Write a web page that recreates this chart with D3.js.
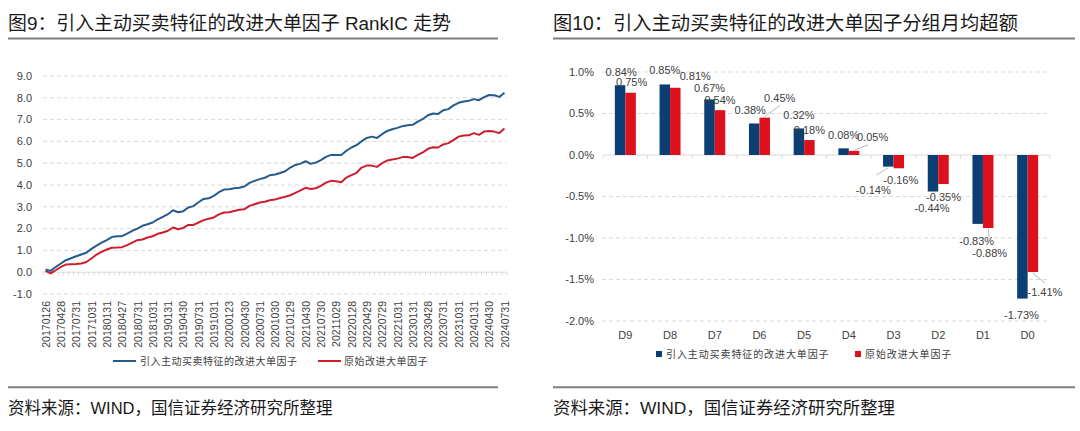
<!DOCTYPE html>
<html><head><meta charset="utf-8">
<script src="https://cdn.jsdelivr.net/npm/d3@7"></script>
<style>
body{margin:0;background:#fff;}
svg{display:block;}
text{font-family:"Liberation Sans",Arial,sans-serif;fill:#404040;}
.cjk{font-family:"Liberation Sans","Noto Sans CJK SC",sans-serif;}
.cjk2{font-family:"Noto Sans CJK SC",sans-serif;}
</style></head><body>
<svg id="c" width="1080" height="431"></svg>
<script>
// ---------------- data ----------------
const tickLabels = ["20170126","20170428","20170731","20171031","20180131","20180427","20180731","20181031",
"20190131","20190430","20190731","20191031","20200123","20200430","20200731","20201030","20210129","20210430",
"20210730","20211029","20220128","20220429","20220729","20221031","20230131","20230428","20230731","20231031",
"20240131","20240430","20240731"];
const improvedIC = [0.12,0.06,0.24,0.40,0.55,0.64,0.73,0.81,0.89,1.07,1.22,1.36,1.47,1.61,1.65,1.65,1.77,1.90,2.00,2.13,
2.20,2.28,2.42,2.54,2.66,2.84,2.75,2.80,2.97,3.03,3.21,3.36,3.39,3.50,3.67,3.79,3.81,3.85,3.87,3.93,
4.10,4.19,4.27,4.33,4.45,4.48,4.55,4.63,4.80,4.92,4.98,5.09,4.97,5.03,5.14,5.29,5.38,5.38,5.38,5.57,
5.72,5.83,6.01,6.16,6.22,6.16,6.33,6.48,6.56,6.62,6.70,6.74,6.76,6.91,7.03,7.20,7.28,7.26,7.43,7.48,
7.65,7.77,7.83,7.86,7.94,7.89,8.03,8.13,8.12,8.04,8.23];
const originalIC = [0.06,-0.05,0.09,0.24,0.35,0.37,0.38,0.40,0.47,0.63,0.81,0.93,1.04,1.12,1.13,1.15,1.24,1.36,1.47,1.50,
1.59,1.65,1.76,1.82,1.90,2.05,1.97,2.03,2.17,2.17,2.28,2.39,2.45,2.51,2.65,2.74,2.75,2.81,2.86,2.89,
3.04,3.12,3.20,3.23,3.30,3.33,3.40,3.46,3.53,3.64,3.75,3.87,3.82,3.85,3.96,4.11,4.19,4.17,4.13,4.34,
4.45,4.56,4.80,4.89,4.89,4.83,5.00,5.12,5.17,5.21,5.28,5.28,5.24,5.38,5.50,5.66,5.73,5.72,5.86,5.92,
6.06,6.22,6.27,6.28,6.38,6.30,6.45,6.48,6.45,6.38,6.59];
const yTicksLeft = [-1,0,1,2,3,4,5,6,7,8,9];
const groups = ["D9","D8","D7","D6","D5","D4","D3","D2","D1","D0"];
const groupImproved = [0.84,0.85,0.67,0.38,0.32,0.08,-0.14,-0.44,-0.83,-1.73];
const groupOriginal = [0.75,0.81,0.54,0.45,0.18,0.05,-0.16,-0.35,-0.88,-1.41];
const yTicksRight = [1.0,0.5,0.0,-0.5,-1.0,-1.5,-2.0];
const seriesNames = ["引入主动买卖特征的改进大单因子","原始改进大单因子"];
const titles = ["图9：引入主动买卖特征的改进大单因子 RankIC 走势","图10：引入主动买卖特征的改进大单因子分组月均超额"];
const sourceText = "资料来源：WIND，国信证券经济研究所整理";

// ---------------- style ----------------
const BLUE_LINE = "#255a8c", RED_LINE = "#cc1f2b";
const BLUE_BAR = "#0b3f74", RED_BAR = "#dc111d";
const GRID = "#d9d9d9";
const loc = d3.formatLocale({decimal:".",thousands:",",grouping:[3],currency:["",""],minus:"-"});
const f1 = loc.format(".1f"), f2 = loc.format(".2f");

const svg = d3.select("#c");

// frame titles / rules / sources: [x0, x1, titleSize, sourceSize]
[[8,498,18.9,16.5],[553,1075,19.3,17.4]].forEach((p,k)=>{
  svg.append("text").attr("class","cjk").attr("x",p[0]).attr("y",30)
    .attr("font-size",p[2]).style("fill","#1a1a1a").text(titles[k]);
  svg.append("line").attr("x1",p[0]).attr("x2",p[1]).attr("y1",38.5).attr("y2",38.5)
    .attr("stroke","#7f7f7f").attr("stroke-width",2);
  svg.append("line").attr("x1",p[0]).attr("x2",p[1]).attr("y1",387.3).attr("y2",387.3)
    .attr("stroke","#7f7f7f").attr("stroke-width",2);
  svg.append("text").attr("class","cjk").attr("x",p[0]).attr("y",414)
    .attr("font-size",p[3]).style("fill","#1a1a1a").text(sourceText);
});

// ---------------- left line chart ----------------
{
  const x = d3.scaleBand().domain(d3.range(improvedIC.length)).range([43,507]);
  const y = d3.scaleLinear().domain([-1,9]).range([294,76]);
  const cx = i => x(i) + x.bandwidth()/2;
  const g = svg.append("g");
  g.selectAll(".gl").data(yTicksLeft.filter(v=>v!==0)).join("line")
    .attr("x1",43).attr("x2",507).attr("y1",d=>y(d)).attr("y2",d=>y(d))
    .attr("stroke",GRID).attr("stroke-dasharray","4,3");
  g.selectAll(".yl").data(yTicksLeft).join("text")
    .attr("x",32).attr("y",d=>y(d)).attr("dy","0.35em").attr("text-anchor","end")
    .attr("font-size",11).text(f1);
  g.append("line").attr("x1",43).attr("x2",507).attr("y1",y(0)).attr("y2",y(0)).attr("stroke",GRID);
  g.selectAll(".mt").data(d3.range(improvedIC.length+1)).join("line")
    .attr("x1",i=>43+i*x.step()).attr("x2",i=>43+i*x.step())
    .attr("y1",y(0)).attr("y2",y(0)+3).attr("stroke",GRID);
  g.selectAll(".xl").data(tickLabels).join("text")
    .attr("transform",(d,k)=>`translate(${cx(k*3)+0.5},301) rotate(-90)`)
    .attr("dy","0.35em").attr("text-anchor","end").attr("font-size",10.5).text(d=>d);
  const line = d3.line().x((d,i)=>cx(i)).y(d=>y(d));
  g.append("path").datum(originalIC).attr("d",line).attr("fill","none")
    .attr("stroke",RED_LINE).attr("stroke-width",2).attr("stroke-linejoin","round");
  g.append("path").datum(improvedIC).attr("d",line).attr("fill","none")
    .attr("stroke",BLUE_LINE).attr("stroke-width",2).attr("stroke-linejoin","round");
  const lg = [[113,136,140,BLUE_LINE],[318,341,344,RED_LINE]];
  lg.forEach((p,k)=>{
    g.append("line").attr("x1",p[0]).attr("x2",p[1]).attr("y1",361).attr("y2",361)
      .attr("stroke",p[3]).attr("stroke-width",2);
    g.append("text").attr("class","cjk2").attr("x",p[2]).attr("y",361).attr("dy","0.35em")
      .attr("font-size",10).attr("letter-spacing",0.5).style("fill","#404040").text(seriesNames[k]);
  });
}

// ---------------- right bar chart ----------------
{
  const x = d3.scaleBand().domain(groups).range([603,1050]);
  const y = d3.scaleLinear().domain([-2,1]).range([321,72]);
  const pairW = 21;
  const x1 = d3.scaleBand().domain([0,1]).range([0,pairW]);
  const off = (x.bandwidth()-pairW)/2;
  const g = svg.append("g");
  g.selectAll(".gl").data(yTicksRight.filter(v=>v!==0)).join("line")
    .attr("x1",602).attr("x2",1048).attr("y1",d=>y(d)).attr("y2",d=>y(d))
    .attr("stroke",GRID).attr("stroke-dasharray","4,3");
  g.selectAll(".yl").data(yTicksRight).join("text")
    .attr("x",594).attr("y",d=>y(d)).attr("dy","0.35em").attr("text-anchor","end")
    .attr("font-size",11).text(d=>f1(d)+"%");
  g.append("line").attr("x1",603).attr("x2",1050).attr("y1",y(0)).attr("y2",y(0)).attr("stroke",GRID);
  g.selectAll(".mt").data(d3.range(groups.length+1)).join("line")
    .attr("x1",i=>603+i*x.step()).attr("x2",i=>603+i*x.step())
    .attr("y1",y(0)).attr("y2",y(0)+4).attr("stroke",GRID);
  g.selectAll(".xl").data(groups).join("text")
    .attr("x",d=>x(d)+x.bandwidth()/2).attr("y",335).attr("dy","0.35em")
    .attr("text-anchor","middle").attr("font-size",11).text(d=>d);
  const series = [groupImproved, groupOriginal];
  const cols = [BLUE_BAR, RED_BAR];
  series.forEach((vals,s)=>{
    g.selectAll(".b"+s).data(vals).join("rect")
      .attr("x",(d,i)=>x(groups[i])+off+x1(s)).attr("width",x1.bandwidth())
      .attr("y",d=>y(Math.max(0,d))).attr("height",d=>Math.abs(y(d)-y(0)))
      .attr("fill",cols[s]);
  });
  const labelOff = [
    [[1,-13.6],[1,-11]],
    [[0,-14],[20,-12]],
    [[0,-11.5],[0,-10.5]],
    [[-4,-13.5],[15,-20]],
    [[0,-13.4],[0,-10]],
    [[0,-13.4],[18.5,-13.5]],
    [[-15,23.5],[2,11.5]],
    [[-1,16.8],[0,12.7]],
    [[-1,16.8],[1.5,25]],
    [[-1,17],[12,19.7]]
  ];
  const leaders = [[1,3,[0,-1,15,-12]],[1,5,[1,-1,14,-6]],[0,6,[0,1,-12,8.5]],[1,8,[0,1,1,9]],[1,9,[0,1,12,11]]];
  const barEnd = (s,i)=>[x(groups[i])+off+x1(s)+x1.bandwidth()/2, y(series[s][i])];
  leaders.forEach(([s,i,l])=>{
    const [bx,by] = barEnd(s,i);
    g.append("line").attr("x1",bx+l[0]).attr("y1",by+l[1]).attr("x2",bx+l[2]).attr("y2",by+l[3])
      .attr("stroke","#a6a6a6").attr("stroke-width",0.8);
  });
  series.forEach((vals,s)=>{
    g.selectAll(".lb"+s).data(vals).join("text")
      .attr("x",(d,i)=>barEnd(s,i)[0]+labelOff[i][s][0])
      .attr("y",(d,i)=>barEnd(s,i)[1]+labelOff[i][s][1])
      .attr("dy","0.35em").attr("text-anchor","middle").attr("font-size",11)
      .text(d=>f2(d)+"%");
  });
  [[656,666],[855,865]].forEach((p,k)=>{
    g.append("rect").attr("x",p[0]).attr("y",351).attr("width",6).attr("height",6).attr("fill",cols[k]);
    g.append("text").attr("class","cjk2").attr("x",p[1]).attr("y",354).attr("dy","0.35em")
      .attr("font-size",10).attr("letter-spacing",0.9).style("fill","#404040").text(seriesNames[k]);
  });
}
</script>
</body></html>
